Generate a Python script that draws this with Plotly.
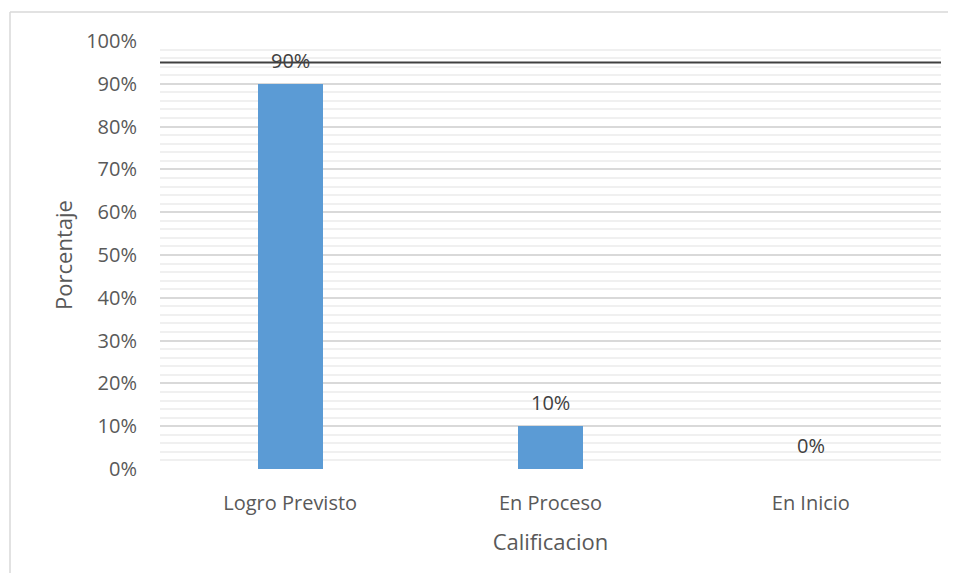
import plotly.graph_objects as go

categories = ["Logro Previsto", "En Proceso", "En Inicio"]
values = [0.90, 0.10, 0.0]
value_labels = ["90%", "10%", "0%"]
reference_level = 0.95
y_ticks = [0, 0.1, 0.2, 0.3, 0.4, 0.5, 0.6, 0.7, 0.8, 0.9, 1.0]
y_tick_labels = ["0%", "10%", "20%", "30%", "40%", "50%", "60%", "70%", "80%", "90%", "100%"]

# page offset of 8px (body margin) is compensated in the margins;
# figure kept small enough that the page does not overflow
W, H = 940, 565
L, R, T, B = 152, 7, 33, 104
pw = W - L - R
ph = H - T - B

font = "Open Sans, Lato, sans-serif"
gray = "#595959"

fig = go.Figure()
fig.add_trace(go.Bar(
    x=categories, y=values,
    marker=dict(color="#5b9bd5", line=dict(width=0)),
    width=0.25, hoverinfo="x+y",
))

for c, v, t in zip(categories, values, value_labels):
    fig.add_annotation(x=c, y=v, text=t, showarrow=False, yanchor="bottom",
                       yshift=8, font=dict(size=20, color="#404040", family=font))

fig.add_shape(type="line", xref="paper", yref="y", x0=0, x1=1,
              y0=reference_level, y1=reference_level,
              line=dict(color="#404040", width=2))

# outer chart border (only top and left edges are visible)
bx0 = (2 - L) / pw
by_top = (H - B - 4) / ph
by_bot = -(H + 30 - T - ph) / ph
bx1 = (W + 30 - L) / pw
fig.add_shape(type="line", xref="paper", yref="paper", x0=bx0, x1=bx1,
              y0=by_top, y1=by_top, line=dict(color="#d9d9d9", width=1.5), layer="below")
fig.add_shape(type="line", xref="paper", yref="paper", x0=bx0, x1=bx0,
              y0=by_bot, y1=by_top, line=dict(color="#d9d9d9", width=1.5), layer="below")

fig.update_layout(
    width=W, height=H,
    margin=dict(l=L, r=R, t=T, b=B),
    paper_bgcolor="white", plot_bgcolor="white",
    showlegend=False,
    font=dict(family=font, color=gray, size=20),
    bargap=0,
    xaxis=dict(
        title=dict(text="Calificacion", font=dict(size=22, color=gray), standoff=19),
        showgrid=False, showline=False, zeroline=False,
        tickfont=dict(size=20, color=gray),
        ticks="", ticklabelstandoff=20,
    ),
    yaxis=dict(
        title=dict(text="Porcentaje", font=dict(size=22, color=gray), standoff=7),
        range=[0, 1], tickvals=y_ticks, ticktext=y_tick_labels,
        tickfont=dict(size=20, color=gray),
        showgrid=True, gridcolor="#d9d9d9", gridwidth=1.5,
        minor=dict(dtick=0.02, showgrid=True, gridcolor="#f0f0f0", gridwidth=1.5),
        zeroline=False, showline=False, ticks="", ticklabelstandoff=22,
    ),
)

fig.write_html("out.html")
